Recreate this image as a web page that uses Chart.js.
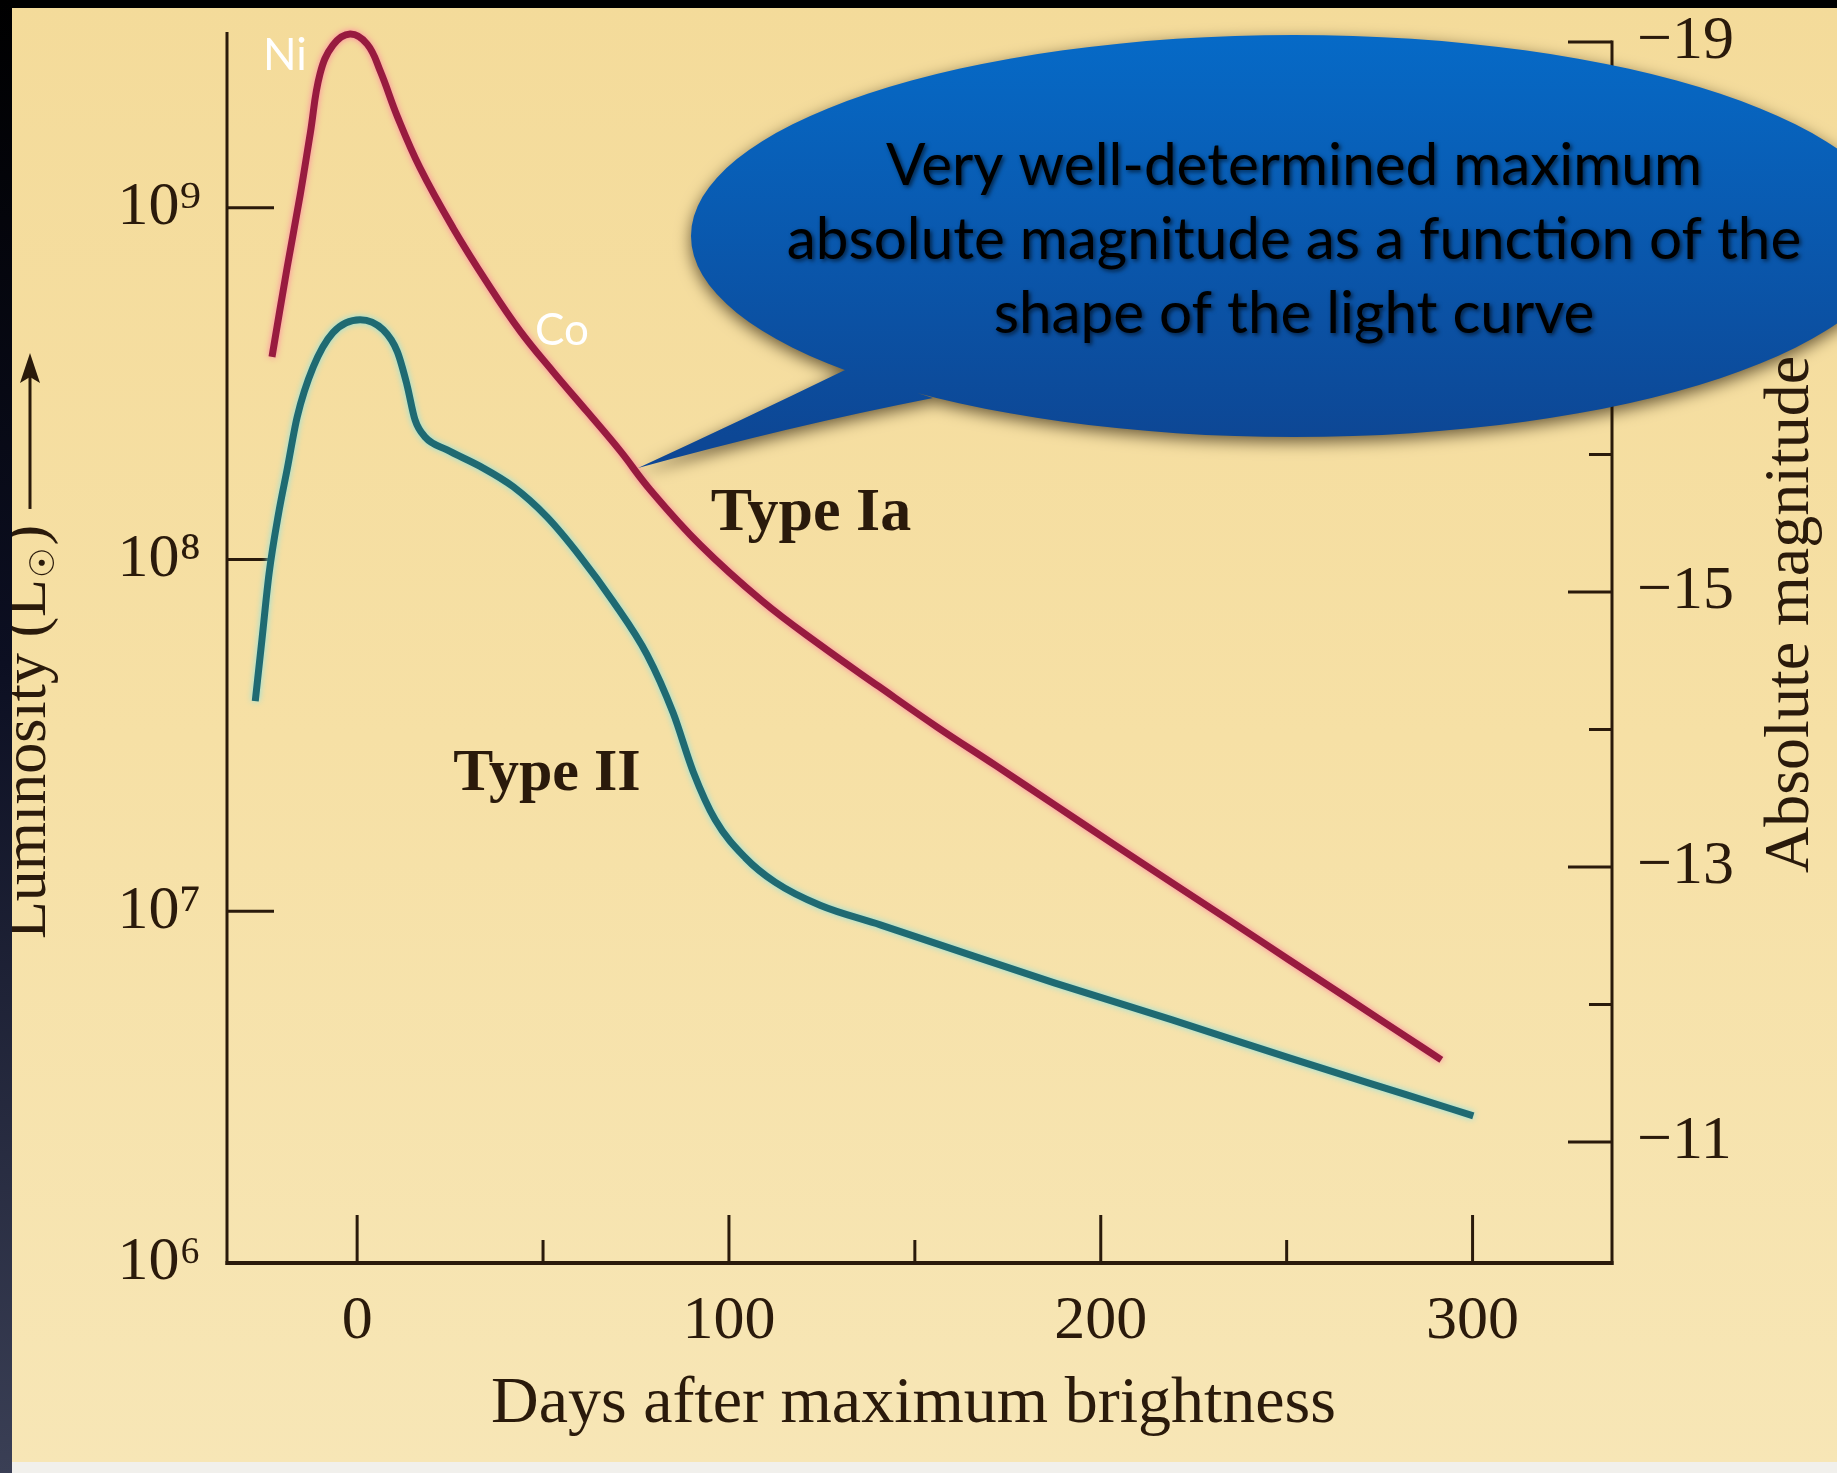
<!DOCTYPE html>
<html>
<head>
<meta charset="utf-8">
<title>Supernova light curves</title>
<script src="https://cdn.jsdelivr.net/npm/chart.js@4.4.0/dist/chart.umd.min.js"></script>
<style>
  html, body { margin: 0; padding: 0; background: #f5dfa2; overflow: hidden; }
  canvas { display: block; }
</style>
</head>
<body>
<canvas id="lc" width="1837" height="1473" style="width:1837px;height:1473px"></canvas>
<script>
// Days after maximum brightness and luminosity (solar units) for each light curve
const daysIa = [-22.9, -18.8, -15.3, -12.6, -10.0, -6.5, -1.9, 2.7, 6.2, 10.8, 16.9, 25.8, 35.0, 43.8, 52.7, 61.9,
                70.7, 78.8, 92.3, 108.9, 124.5, 140.4, 156.0, 171.9, 187.5, 203.3, 219.2, 234.8, 250.7, 266.3, 282.1, 291.6];
const lumIa  = [3.77e8, 6.79e8, 1.09e9, 1.63e9, 2.40e9, 2.90e9, 3.12e9, 2.92e9, 2.45e9, 1.82e9, 1.30e9, 8.77e8, 6.12e8, 4.47e8, 3.42e8, 2.63e8,
                2.04e8, 1.58e8, 1.10e8, 7.63e7, 5.72e7, 4.35e7, 3.34e7, 2.59e7, 2.01e7, 1.555e7, 1.204e7, 9.39e6, 7.27e6, 5.67e6, 4.40e6, 3.78e6];

const daysII = [-27.4, -25.6, -23.7, -21.2, -18.8, -16.1, -11.8, -6.5, 0.8, 7.0, 10.8, 13.4, 15.6, 18.3, 24.2, 33.1, 42.0,
                51.1, 60.0, 68.9, 78.0, 85.0, 90.4, 96.3, 104.4, 112.4, 124.5, 140.7, 156.0, 187.5, 219.2, 250.7, 282.1, 300.2];
const lumII  = [3.96e7, 5.92e7, 9.10e7, 1.34e8, 1.81e8, 2.55e8, 3.53e8, 4.42e8, 4.81e8, 4.50e8, 3.90e8, 3.14e8, 2.49e8, 2.23e8, 2.05e8, 1.84e8, 1.61e8,
                1.32e8, 1.02e8, 7.59e7, 5.36e7, 3.66e7, 2.49e7, 1.82e7, 1.42e7, 1.21e7, 1.04e7, 9.15e6, 8.08e6, 6.26e6, 4.91e6, 3.83e6, 3.01e6, 2.62e6];

const seriesNames = ['Type Ia', 'Type II'];

// Axis ticks
const lumTicks = [1e6, 1e7, 1e8, 1e9];
const lumTickLabels = ['10⁶', '10⁷', '10⁸', '10⁹'];
const dayTicks = [0, 100, 200, 300];
const dayTickLabels = ['0', '100', '200', '300'];
const dayMinorTicks = [50, 150, 250];
const magTicks = [-19, -18, -17, -16, -15, -14, -13, -12, -11];
const magLabelled = [-19, -15, -13, -11];

// Text
const xTitle = 'Days after maximum brightness';
const yTitle = ['Luminosity (L', '☉', ')'];
const magTitle = 'Absolute magnitude';
const isotopeLabels = ['Ni', 'Co'];
const calloutLines = ['Very well-determined maximum', 'absolute magnitude as a function of the', 'shape of the light curve'];

const SERIF = "'Liberation Serif', 'DejaVu Serif', serif";
const SANS = "Lato, 'Open Sans', sans-serif";
const INK = '#2a1a0b';

const points = (xs, ys) => xs.map((x, i) => ({ x, y: ys[i] }));
const glowColors = ['rgba(255,125,160,0.95)', 'rgba(130,225,230,0.95)'];

function seg(ctx, x1, y1, x2, y2) {
  ctx.beginPath(); ctx.moveTo(x1, y1); ctx.lineTo(x2, y2); ctx.stroke();
}

// Paper background
const paper = {
  id: 'paper',
  beforeDraw(chart) {
    const { ctx, width, height } = chart;
    ctx.save();
    const g = ctx.createLinearGradient(0, 0, 0, height);
    g.addColorStop(0, '#f4db9a');
    g.addColorStop(0.5, '#f6e0a5');
    g.addColorStop(1, '#f7e6b6');
    ctx.fillStyle = g;
    ctx.fillRect(0, 0, width, height);
    ctx.restore();
  }
};

// Axis lines and inward-pointing tick marks
const axisMarks = {
  id: 'axisMarks',
  beforeDatasetsDraw(chart) {
    const { ctx, chartArea: a, scales } = chart;
    const xs = scales.x, ys = scales.y, ms = scales.mag;
    ctx.save();
    ctx.strokeStyle = INK;
    ctx.lineWidth = 3;
    seg(ctx, a.left, a.top, a.left, a.bottom + 2);
    const magTop = ms.getPixelForValue(magTicks[0]);
    seg(ctx, a.right, magTop - 1.5, a.right, a.bottom + 2);
    ctx.lineWidth = 4;
    seg(ctx, a.left - 1.5, a.bottom, a.right + 1.5, a.bottom);
    ctx.lineWidth = 3;
    lumTicks.forEach(v => {
      const py = ys.getPixelForValue(v);
      if (py < a.bottom - 2) seg(ctx, a.left, py, a.left + 47, py);
    });
    dayTicks.forEach(v => {
      const px = xs.getPixelForValue(v);
      seg(ctx, px, a.bottom, px, a.bottom - 48);
    });
    dayMinorTicks.forEach(v => {
      const px = xs.getPixelForValue(v);
      seg(ctx, px, a.bottom, px, a.bottom - 23);
    });
    magTicks.forEach(v => {
      const py = ms.getPixelForValue(v);
      const len = Math.abs(v) % 2 === 1 ? 44 : 23;
      seg(ctx, a.right, py, a.right - len, py);
    });
    ctx.restore();
  }
};

// Soft coloured fringe round each curve
const glow = {
  id: 'glow',
  beforeDatasetDraw(chart, args) {
    chart.ctx.save();
    chart.ctx.shadowColor = glowColors[args.index];
    chart.ctx.shadowBlur = 6;
  },
  afterDatasetDraw(chart) { chart.ctx.restore(); }
};

// Titles, curve labels, speech bubble and page edges
const overlay = {
  id: 'overlay',
  afterDraw(chart) {
    const { ctx, width, height, chartArea: a } = chart;
    ctx.save();
    ctx.fillStyle = INK;
    ctx.textBaseline = 'alphabetic';

    // x title
    ctx.font = `66px ${SERIF}`;
    ctx.textAlign = 'center';
    ctx.fillText(xTitle, (a.left + a.right) / 2 - 6, 1422);

    // left title with arrow
    ctx.save();
    ctx.translate(45, 939);
    ctx.rotate(-Math.PI / 2);
    ctx.textAlign = 'left';
    ctx.font = `62px ${SERIF}`;
    ctx.fillText(yTitle[0], 0, 0);
    let w = ctx.measureText(yTitle[0]).width;
    ctx.font = `34px 'DejaVu Sans', ${SERIF}`;
    ctx.fillText(yTitle[1], w + 1, 9);
    w += ctx.measureText(yTitle[1]).width + 3;
    ctx.font = `62px ${SERIF}`;
    ctx.fillText(yTitle[2], w, 0);
    w += ctx.measureText(yTitle[2]).width;
    const tip = 939 - 353;
    ctx.strokeStyle = INK;
    ctx.lineWidth = 3;
    seg(ctx, w + 16, -15, tip - 20, -15);
    ctx.beginPath();
    ctx.moveTo(tip, -15);
    ctx.lineTo(tip - 30, -25);
    ctx.lineTo(tip - 24, -15);
    ctx.lineTo(tip - 30, -5);
    ctx.closePath();
    ctx.fill();
    ctx.restore();

    // right title
    ctx.save();
    ctx.translate(1808, 873);
    ctx.rotate(-Math.PI / 2);
    ctx.textAlign = 'left';
    ctx.font = `64px ${SERIF}`;
    ctx.fillText(magTitle, 0, 0);
    ctx.restore();

    // curve names
    ctx.textAlign = 'center';
    ctx.font = `bold 62px ${SERIF}`;
    ctx.fillText(seriesNames[0], 811, 530);
    ctx.font = `bold 60px ${SERIF}`;
    ctx.fillText(seriesNames[1], 547, 790);

    // isotope labels
    ctx.fillStyle = '#ffffff';
    ctx.textAlign = 'left';
    ctx.font = `44px ${SANS}`;
    ctx.fillText(isotopeLabels[0], 263, 70);
    ctx.fillText(isotopeLabels[1], 535, 345);

    // speech bubble
    const cx = 1294, cy = 236, rx = 603, ry = 201;
    ctx.save();
    ctx.beginPath();
    ctx.ellipse(cx, cy, rx, ry, 0, 0, Math.PI * 2);
    ctx.moveTo(638, 468);
    ctx.quadraticCurveTo(740, 421, 845, 370);
    ctx.lineTo(933, 398);
    ctx.quadraticCurveTo(790, 426, 638, 468);
    ctx.closePath();
    const bg = ctx.createLinearGradient(0, cy - ry, 0, cy + ry);
    bg.addColorStop(0, '#066ac7');
    bg.addColorStop(1, '#0d4795');
    ctx.fillStyle = bg;
    ctx.shadowColor = 'rgba(30,18,0,0.65)';
    ctx.shadowBlur = 16;
    ctx.shadowOffsetY = 5;
    ctx.fill();
    ctx.restore();

    ctx.save();
    ctx.font = `100px ${SANS}`;
    const fs = 100 * 1015 / ctx.measureText(calloutLines[1]).width;
    ctx.font = `${fs.toFixed(1)}px ${SANS}`;
    ctx.textAlign = 'center';
    ctx.fillStyle = '#000000';
    ctx.shadowColor = 'rgba(0,0,0,0.6)';
    ctx.shadowBlur = 4;
    ctx.shadowOffsetX = 2;
    ctx.shadowOffsetY = 2;
    [185, 259, 333].forEach((by, i) => ctx.fillText(calloutLines[i], cx, by));
    ctx.restore();

    // page edges
    ctx.fillStyle = '#f1f0ec';
    ctx.fillRect(0, 1462, width, height - 1462);
    ctx.fillStyle = '#000000';
    ctx.fillRect(0, 0, width, 8);
    const lg = ctx.createLinearGradient(0, 0, 0, height);
    lg.addColorStop(0, '#000000');
    lg.addColorStop(0.45, '#0c0f22');
    lg.addColorStop(1, '#3a3f55');
    ctx.fillStyle = lg;
    ctx.fillRect(0, 0, 12, height);
    ctx.restore();
  }
};

const noPad = s => { s.paddingTop = 0; s.paddingBottom = 0; s.paddingLeft = 0; s.paddingRight = 0; };

new Chart(document.getElementById('lc'), {
  type: 'line',
  data: {
    datasets: [
      {
        label: seriesNames[0],
        data: points(daysIa, lumIa),
        borderColor: '#981b3f',
        borderWidth: 7,
        pointRadius: 0,
        tension: 0.4,
        fill: false,
        clip: false,
        yAxisID: 'y'
      },
      {
        label: seriesNames[1],
        data: points(daysII, lumII),
        borderColor: '#1f6a72',
        borderWidth: 7,
        pointRadius: 0,
        cubicInterpolationMode: 'monotone',
        fill: false,
        clip: false,
        yAxisID: 'y'
      }
    ]
  },
  options: {
    responsive: false,
    animation: false,
    devicePixelRatio: 1,
    layout: { padding: { top: 32, left: 0, right: 0, bottom: 0 } },
    plugins: { legend: { display: false }, tooltip: { enabled: false } },
    scales: {
      x: {
        type: 'linear',
        position: 'bottom',
        min: -35,
        max: 337.5,
        grid: { display: false, drawTicks: false },
        border: { display: false },
        afterBuildTicks: s => { s.ticks = dayTicks.map(v => ({ value: v })); },
        afterFit: s => { s.height = 210; noPad(s); },
        ticks: {
          autoSkip: false, maxRotation: 0, padding: 22, color: INK,
          font: { family: SERIF, size: 62 },
          callback: v => dayTickLabels[dayTicks.indexOf(v)]
        }
      },
      y: {
        type: 'logarithmic',
        position: 'left',
        min: 1e6,
        max: 3.162e9,
        grid: { display: false, drawTicks: false },
        border: { display: false },
        afterBuildTicks: s => { s.ticks = lumTicks.map(v => ({ value: v })); },
        afterFit: s => { s.width = 227; noPad(s); },
        ticks: {
          autoSkip: false, padding: 26, color: INK,
          font: { family: SERIF, size: 62 },
          callback: v => lumTickLabels[lumTicks.indexOf(v)]
        }
      },
      mag: {
        type: 'linear',
        position: 'right',
        reverse: true,
        min: -19.073,
        max: -10.12,
        grid: { display: false, drawTicks: false },
        border: { display: false },
        afterBuildTicks: s => { s.ticks = magTicks.map(v => ({ value: v })); },
        afterFit: s => { s.width = 225; noPad(s); },
        ticks: {
          autoSkip: false, padding: 25, color: INK,
          font: { family: SERIF, size: 62 },
          callback: v => magLabelled.includes(v) ? '−' + Math.abs(v) : ''
        }
      }
    }
  },
  plugins: [paper, axisMarks, glow, overlay]
});
</script>
</body>
</html>
